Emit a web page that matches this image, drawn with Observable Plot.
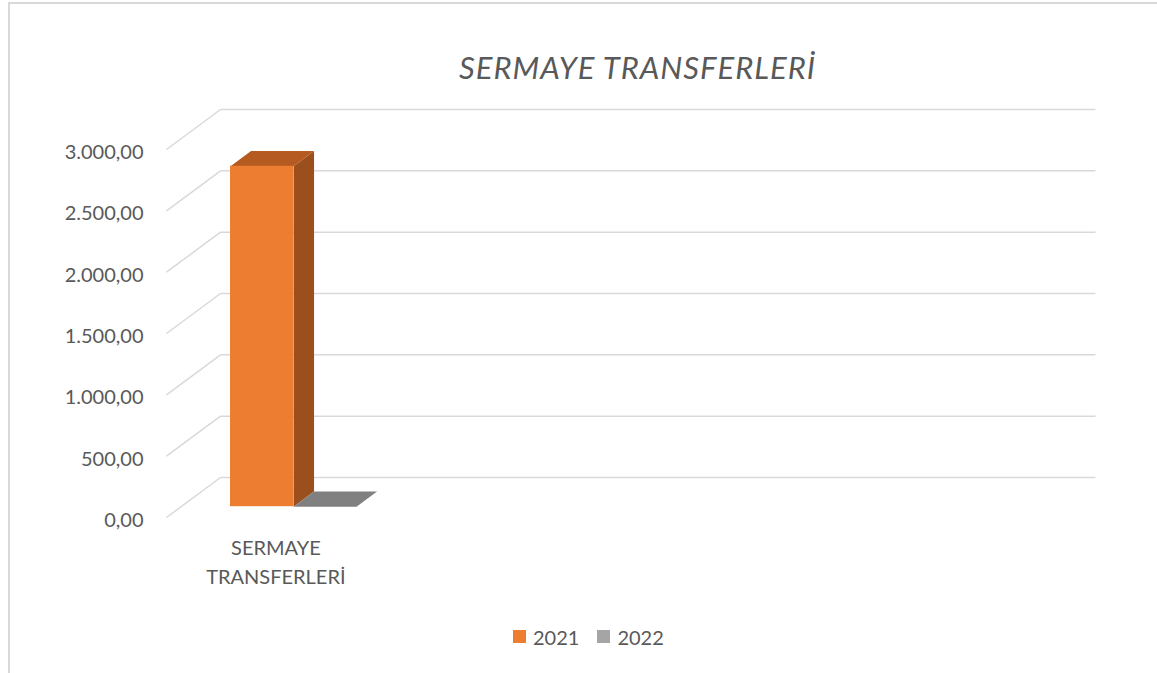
<!DOCTYPE html>
<html>
<head>
<meta charset="utf-8">
<script src="https://cdn.jsdelivr.net/npm/d3@7"></script>
<script src="https://cdn.jsdelivr.net/npm/@observablehq/plot@0.6"></script>
<style>
  html, body { margin: 0; padding: 0; background: #fff; }
  #wrap { position: relative; width: 1157px; height: 673px; overflow: hidden; font-family: Lato, "Noto Sans", sans-serif; color: #595959; }
  #frame { position: absolute; left: 8px; top: 2px; width: 1160px; height: 680px; border-left: 2px solid #d9d9d9; border-top: 2px solid #d9d9d9; box-sizing: border-box; pointer-events: none; }
  #title { height: 100px; box-sizing: border-box; padding-left: 118px; padding-top: 49px; text-align: center; font-style: italic; font-size: 31px; line-height: 36px; letter-spacing: 1px; color: #595959; white-space: nowrap; }
  #chart svg { display: block; overflow: visible; }
  #legend { height: 73px; display: flex; align-items: center; padding-left: 513px; box-sizing: border-box; font-size: 20px; color: #595959; }
  .sw { width: 13px; height: 13px; display: inline-block; margin-right: 7px; }
  .item { display: flex; align-items: center; margin-right: 18px; }
</style>
</head>
<body>
<div id="wrap">
  <div id="frame"></div>
  <div id="title"></div>
  <div id="chart"></div>
  <div id="legend"></div>
</div>
<script>
// ---- data ----
const title = "SERMAYE TRANSFERLERİ";
const categories = ["SERMAYE TRANSFERLERİ"];
const series = ["2021", "2022"];
const values2021 = [2775];
const values2022 = [0];
const yTicks = [0, 500, 1000, 1500, 2000, 2500, 3000];

// ---- styling / layout constants ----
const colors = {
  "2021": {front: "#ED7D31", side: "#9B4F1D", top: "#B55B21", legend: "#ED7D31"},
  "2022": {front: "#A5A5A5", side: "#6E6E6E", top: "#808080", legend: "#A5A5A5"}
};
const nSlots = 4;          // category slots along the x axis
const DX = 0.2469;         // full depth offset in x units
const DY = 326;            // full depth offset in value units
const D0 = 0.27, D1 = 0.65; // bar depth range
const barStart = 0.226, barW = 0.288;

const seriesValues = {"2021": values2021, "2022": values2022};
const fronts = [], polys = [];
categories.forEach((c, i) => {
  series.forEach((s, j) => {
    const v = seriesValues[s][i];
    const x0 = i + barStart + j * barW, x1 = x0 + barW;
    const col = colors[s];
    fronts.push({x1: x0 + D0 * DX, x2: x1 + D0 * DX, y1: D0 * DY, y2: v + D0 * DY, fill: col.front});
    const side = [[x1 + D0 * DX, D0 * DY], [x1 + D1 * DX, D1 * DY], [x1 + D1 * DX, v + D1 * DY], [x1 + D0 * DX, v + D0 * DY]];
    const top = [[x0 + D0 * DX, v + D0 * DY], [x1 + D0 * DX, v + D0 * DY], [x1 + D1 * DX, v + D1 * DY], [x0 + D1 * DX, v + D1 * DY]];
    side.forEach(([x, y]) => polys.push({id: `${s}-${i}-side`, x, y, fill: col.side}));
    top.forEach(([x, y]) => polys.push({id: `${s}-${i}-top`, x, y, fill: col.top}));
  });
});

const trLocale = d3.formatLocale({decimal: ",", thousands: ".", grouping: [3], currency: ["", ""]});
const fmt = trLocale.format(",.2f");

document.getElementById("title").textContent = title;

const plot = Plot.plot({
  width: 1157,
  height: 500,
  x: {domain: [0, nSlots], range: [166, 1041], axis: null},
  y: {domain: [0, 3000], range: [417, 49], axis: null},
  color: {type: "identity"},
  style: {fontFamily: "Lato, 'Noto Sans', sans-serif", overflow: "visible"},
  marks: [
    // back wall gridlines
    Plot.link(yTicks, {x1: DX, x2: nSlots + DX, y1: d => d + DY, y2: d => d + DY, stroke: "#D9D9D9", strokeWidth: 1.5}),
    // side wall gridlines
    Plot.link(yTicks, {x1: 0, x2: DX, y1: d => d, y2: d => d + DY, stroke: "#D9D9D9", strokeWidth: 1.5}),
    // y tick labels
    Plot.text(yTicks, {x: 0, y: d => d, text: d => fmt(d), textAnchor: "end", dx: -23, dy: 3, fontSize: 20, fill: "#595959"}),
    // bars
    Plot.line(polys, {x: "x", y: "y", z: "id", fill: "fill", stroke: "none", curve: "linear-closed"}),
    Plot.rect(fronts, {x1: "x1", x2: "x2", y1: "y1", y2: "y2", fill: "fill"}),
    // category labels
    Plot.text(categories, {x: (d, i) => i + 0.5, y: 0, text: d => d, lineWidth: 8, lineHeight: 1.45, lineAnchor: "middle", dy: 43, fontSize: 20, fill: "#595959"})
  ]
});
document.getElementById("chart").appendChild(plot);

const legend = document.getElementById("legend");
series.forEach(s => {
  const item = document.createElement("div");
  item.className = "item";
  const sw = document.createElement("span");
  sw.className = "sw";
  sw.style.background = colors[s].legend;
  const t = document.createElement("span");
  t.textContent = s;
  item.appendChild(sw);
  item.appendChild(t);
  legend.appendChild(item);
});
</script>
</body>
</html>
